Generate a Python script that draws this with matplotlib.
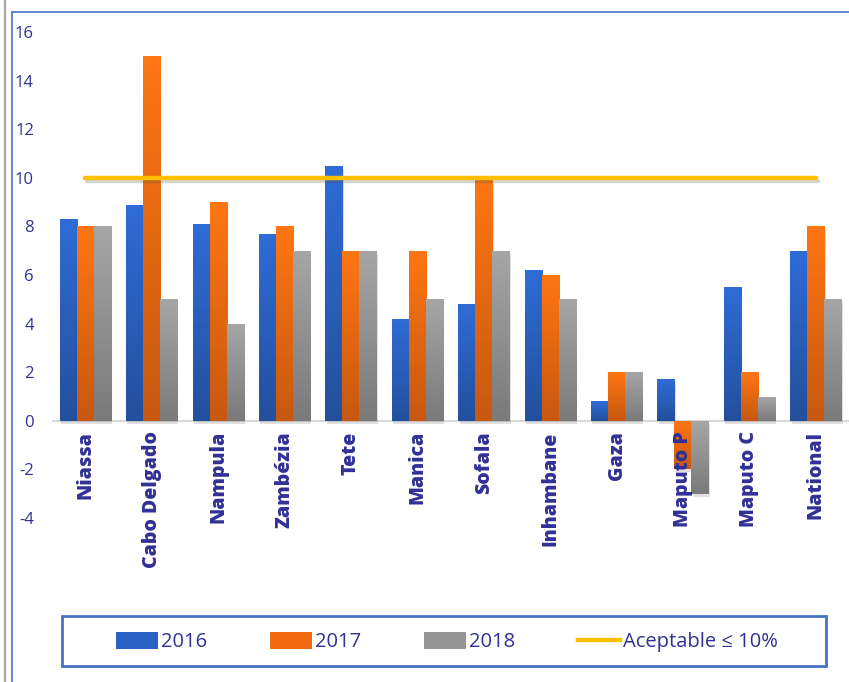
import numpy as np
import matplotlib
matplotlib.use("Agg")
import matplotlib.pyplot as plt
from matplotlib.colors import LinearSegmentedColormap
from matplotlib.patches import Rectangle, Patch
from matplotlib.lines import Line2D
import matplotlib.patheffects as pe

provinces = ["Niassa", "Cabo Delgado", "Nampula", "Zambézia", "Tete", "Manica",
             "Sofala", "Inhambane", "Gaza", "Maputo P", "Maputo C", "National"]
y2016 = [8.3, 8.9, 8.1, 7.7, 10.5, 4.2, 4.8, 6.2, 0.8, 1.7, 5.5, 7.0]
y2017 = [8, 15, 9, 8, 7, 7, 9.9, 6, 2, -2, 2, 8]
y2018 = [8, 5, 4, 7, 7, 5, 7, 5, 2, -3, 1, 5]
series_names = ["2016", "2017", "2018"]
threshold = 10
threshold_label = "Aceptable ≤ 10%"
yticks = list(range(-4, 17, 2))

W, H = 849, 682
fig = plt.figure(figsize=(W / 100, H / 100), dpi=100)
text_col = "#303096"

# light/dark ends of each series' vertical gradient
grads = [("#2F6CD6", "#23509C"), ("#FF7613", "#C75810"), ("#A6A6A6", "#7A7A7A")]
mids = ["#2A62C4", "#F06A12", "#959595"]

ax = fig.add_axes([52 / W, (H - 518) / H, (W - 52) / W, (518 - 32) / H])
ax.set_xlim(-0.5, len(provinces) - 0.5)
ax.set_ylim(-4, 16)
for s in ax.spines.values():
    s.set_visible(False)
ax.set_xticks([])
ax.set_yticks(yticks)
ax.set_yticklabels([str(t) for t in yticks], fontsize=12, color=text_col,
                   fontfamily="Open Sans")
ax.tick_params(axis="y", length=0, pad=13)
ax.axhline(0, color="#D9D9D9", lw=1.5, zorder=1)

x = np.arange(len(provinces))
bw = 0.256
offsets = [-bw, 0, bw]
grad_img = np.linspace(1, 0, 256).reshape(-1, 1)

for k, vals in enumerate([y2016, y2017, y2018]):
    bars = ax.bar(x + offsets[k], vals, width=bw, color="none", zorder=3)
    cmap = LinearSegmentedColormap.from_list(f"g{k}", [grads[k][1], grads[k][0]])
    for b in bars:
        x0, y0 = b.get_x(), b.get_y()
        w, h = b.get_width(), b.get_height()
        top, bot = max(y0, y0 + h), min(y0, y0 + h)
        # soft drop shadow
        ax.add_patch(Rectangle((x0 + 0.02, bot - 0.12), w, top - bot,
                               facecolor="#000000", alpha=0.12, lw=0, zorder=2))
        im = ax.imshow(grad_img, cmap=cmap, aspect="auto",
                       extent=[x0, x0 + w, bot, top], zorder=3,
                       interpolation="bicubic", vmin=0, vmax=1)
        im.set_clip_path(b)

ax.plot([x[0], x[-1]], [threshold, threshold], color="#FFC000", lw=3.2,
        solid_capstyle="round", zorder=5,
        path_effects=[pe.SimpleLineShadow(offset=(1.5, -2), alpha=0.25, shadow_color="#555555"),
                      pe.Normal()])

for xi, name in zip(x, provinces):
    ax.annotate(name, (xi, 0), xytext=(0, -7.5), textcoords="offset points",
                rotation=90, ha="center", va="top", fontsize=14,
                fontweight="heavy", color=text_col, fontfamily="Open Sans",
                annotation_clip=False)

# outer frame lines
fig.add_artist(Line2D([5 / W, 5 / W], [0, 1], color="#A8A8A8", lw=1.6))
fig.add_artist(Line2D([12 / W, 12 / W], [0, (H - 12) / H], color="#4A76C8", lw=1.2))
fig.add_artist(Line2D([12 / W, 1], [(H - 12) / H, (H - 12) / H], color="#4A76C8", lw=1.2))

# legend box
fig.add_artist(Rectangle((62 / W, (H - 666) / H), (826 - 62) / W, 50 / H,
                         transform=fig.transFigure, facecolor="white",
                         edgecolor="#4472C4", lw=2))
handles = [Patch(facecolor=mids[i], edgecolor="none") for i in range(3)]
handles.append(Line2D([], [], color="#FFC000", lw=3.2))
leg = fig.legend(handles, series_names + [threshold_label], loc="center",
                 bbox_to_anchor=(447 / W, (H - 642) / H), ncol=4, frameon=False,
                 handlelength=2.1, handleheight=0.9,
                 handletextpad=0.15, columnspacing=3.1,
                 prop={"family": "Open Sans", "size": 14.5})
for t in leg.get_texts():
    t.set_color(text_col)

fig.savefig("out.png", dpi=100)
